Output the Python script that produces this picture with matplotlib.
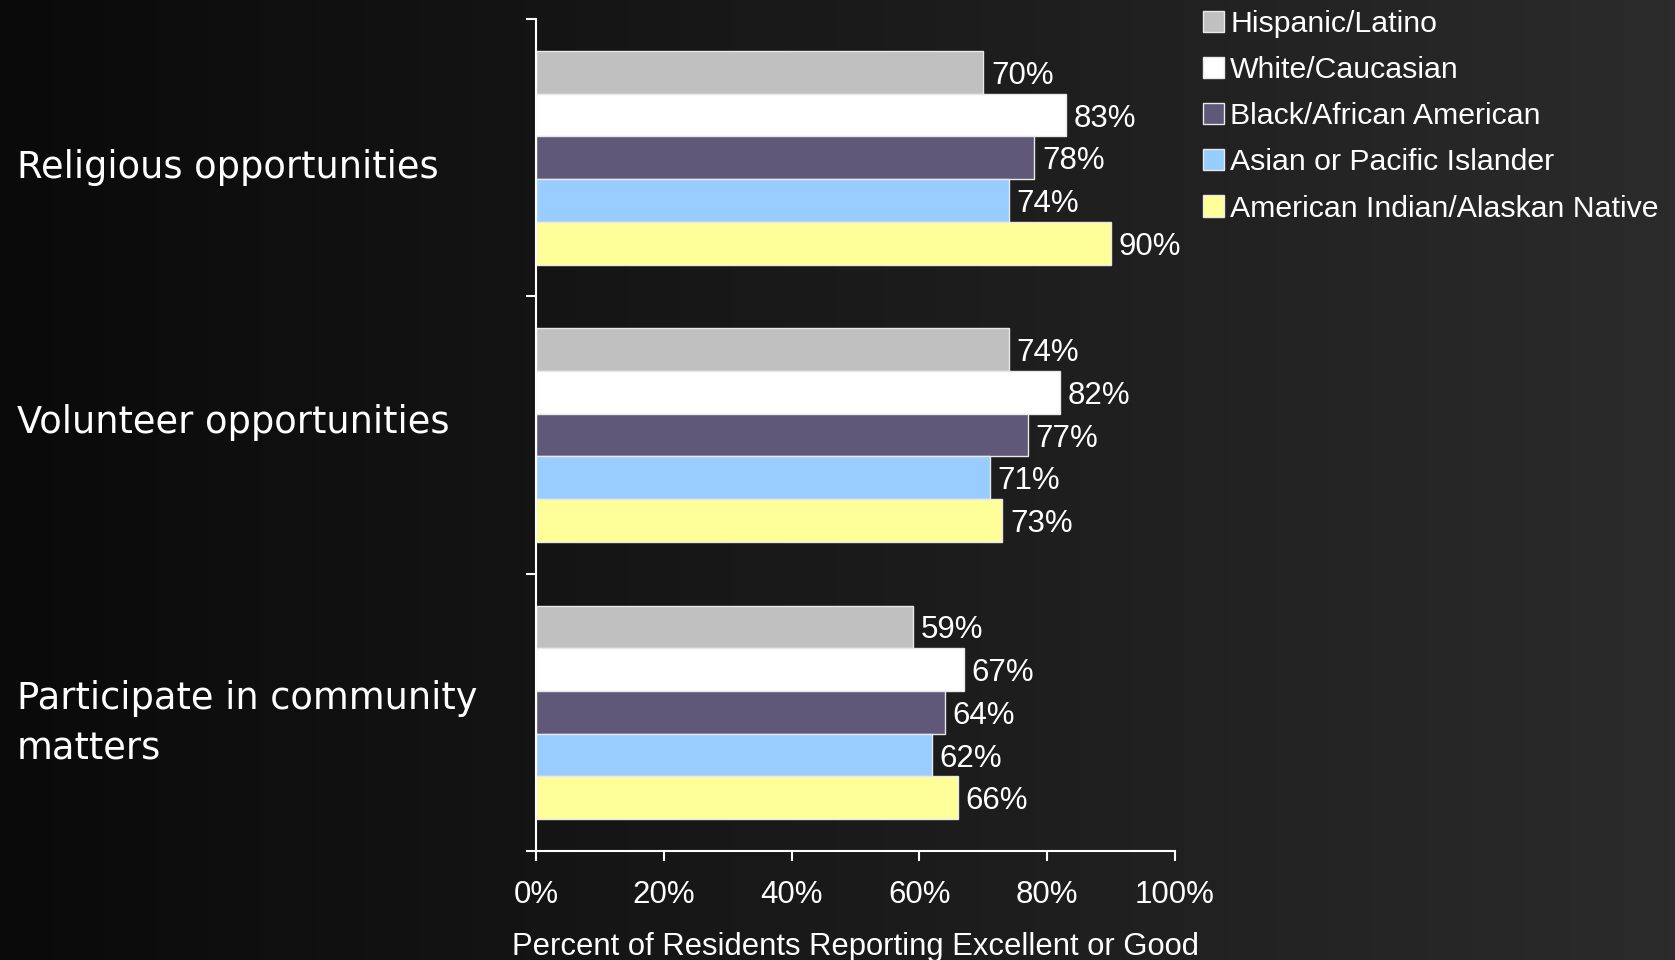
import matplotlib
matplotlib.use('Agg')
import matplotlib.pyplot as plt
import numpy as np
from matplotlib.patches import Patch
from matplotlib.transforms import blended_transform_factory

categories = ['Religious opportunities', 'Volunteer opportunities',
              'Participate in community\nmatters']
groups = ['Hispanic/Latino', 'White/Caucasian', 'Black/African American',
          'Asian or Pacific Islander', 'American Indian/Alaskan Native']
values = {
    'Hispanic/Latino': [70, 74, 59],
    'White/Caucasian': [83, 82, 67],
    'Black/African American': [78, 77, 64],
    'Asian or Pacific Islander': [74, 71, 62],
    'American Indian/Alaskan Native': [90, 73, 66],
}
colors = ['#C0C0C0', '#FFFFFF', '#5F5878', '#99CCFF', '#FFFF99']
xticks = [0, 20, 40, 60, 80, 100]

narrow = ['Liberation Sans Narrow', 'Liberation Sans', 'DejaVu Sans']
regular = ['Liberation Sans', 'DejaVu Sans']

fig = plt.figure(figsize=(16.75, 9.6), dpi=100)

# dark horizontal gradient behind everything
bg = fig.add_axes([0, 0, 1, 1], zorder=-10)
grad = np.linspace(0, 1, 256).reshape(1, -1)
bg.imshow(grad, aspect='auto', cmap=matplotlib.colors.LinearSegmentedColormap.from_list(
    'bg', ['#0a0a0a', '#1a1a1a', '#2b2b2b']), extent=[0, 1, 0, 1])
bg.axis('off')

ax = fig.add_axes([0.320, 0.1135, 0.3815, 0.8665])
ax.patch.set_alpha(0)

h = 0.154
y = np.arange(len(categories))
for i, (g, c) in enumerate(zip(groups, colors)):
    pos = y - 2 * h + i * h
    bars = ax.barh(pos, values[g], height=h, color=c, edgecolor='#E8E8E8', linewidth=1.0)
    for b, v in zip(bars, values[g]):
        ax.text(b.get_width() + 1.2, b.get_y() + b.get_height() / 2, f'{v}%',
                va='center_baseline', ha='left', color='white', fontsize=22.5, family=narrow)

ax.set_xlim(0, 100)
ax.set_ylim(len(categories) - 0.5, -0.5)
ax.set_xticks(xticks)
ax.set_xticklabels([f'{t}%' for t in xticks], family=narrow, fontsize=22.5, color='white')
ax.set_yticks(np.arange(len(categories) + 1) - 0.5)
ax.set_yticklabels([])
ax.tick_params(axis='x', colors='white', length=7, width=1.5, pad=14)
ax.tick_params(axis='y', colors='white', length=7, width=1.5)
for s in ['top', 'right']:
    ax.spines[s].set_visible(False)
for s in ['left', 'bottom']:
    ax.spines[s].set_color('white')
    ax.spines[s].set_linewidth(1.5)
ax.set_xlabel('Percent of Residents Reporting Excellent or Good', color='white',
              fontsize=22.3, family=narrow, labelpad=16)

# category names sit at the far left of the figure
trans = blended_transform_factory(fig.transFigure, ax.transData)
label_shift = [0.035, -0.045, 0.04]
for yy, cat, dy in zip(y, categories, label_shift):
    ax.text(0.010, yy + dy, cat, transform=trans, ha='left', va='center',
            color='white', fontsize=26.5, family='DejaVu Sans', linespacing=1.45)

handles = [Patch(facecolor=c, edgecolor='#E8E8E8', linewidth=1.0, label=g)
           for g, c in zip(groups, colors)]
leg = fig.legend(handles=handles, loc='upper left', bbox_to_anchor=(0.702, 1.018),
                 frameon=False, prop={'family': regular, 'size': 21.8},
                 handlelength=0.7, handleheight=0.7, handletextpad=0.2,
                 labelspacing=0.6)
for t in leg.get_texts():
    t.set_color('white')

fig.savefig('out.png', dpi=100)
